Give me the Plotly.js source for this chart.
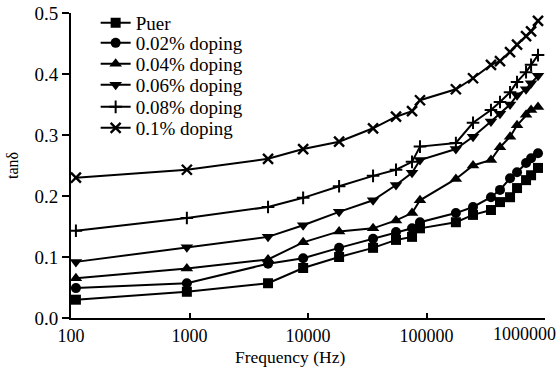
<!DOCTYPE html>
<html>
<head>
<meta charset="utf-8">
<script src="https://cdn.plot.ly/plotly-3.0.1.min.js"></script>
<style>html,body{margin:0;padding:0;background:#fff;}#chart{width:559px;height:373px;}</style>
</head>
<body>
<div id="chart"></div>
<script>
// Frequencies (Hz)
const frequency = [110, 950, 4600, 9100, 18300, 35400, 55300, 75500, 88100, 177000, 247000, 350000, 417000, 507000, 581000, 692000, 763000, 873000];

const seriesNames = ["Puer", "0.02% doping", "0.04% doping", "0.06% doping", "0.08% doping", "0.1% doping"];

const puer    = [0.030, 0.043, 0.057, 0.082, 0.100, 0.115, 0.128, 0.133, 0.147, 0.157, 0.169, 0.177, 0.190, 0.198, 0.213, 0.226, 0.234, 0.246];
const dop002  = [0.049, 0.057, 0.089, 0.098, 0.115, 0.130, 0.141, 0.147, 0.157, 0.172, 0.182, 0.198, 0.210, 0.229, 0.239, 0.254, 0.262, 0.270];
const dop004  = [0.065, 0.081, 0.096, 0.124, 0.142, 0.147, 0.160, 0.172, 0.193, 0.228, 0.250, 0.259, 0.280, 0.297, 0.316, 0.333, 0.341, 0.346];
const dop006  = [0.092, 0.116, 0.133, 0.152, 0.174, 0.193, 0.218, 0.238, 0.259, 0.277, 0.297, 0.322, 0.335, 0.350, 0.365, 0.375, 0.385, 0.397];
const dop008  = [0.143, 0.164, 0.182, 0.197, 0.216, 0.233, 0.243, 0.256, 0.281, 0.287, 0.320, 0.341, 0.354, 0.370, 0.387, 0.403, 0.415, 0.431];
const dop010  = [0.230, 0.243, 0.261, 0.277, 0.289, 0.311, 0.330, 0.339, 0.357, 0.375, 0.393, 0.415, 0.421, 0.436, 0.448, 0.462, 0.470, 0.487];

const xTickVals = [100, 1000, 10000, 100000, 1000000];
const xTickText = ["100", "1000", "10000", "100000", "1000000"];

const allValues = [puer, dop002, dop004, dop006, dop008, dop010];
const symbols = ["square", "circle", "triangle-up", "triangle-down", "cross-thin", "x-thin"];
const sizes = [10, 10, 11, 11, 9, 10];
const strokes = [0, 0, 0, 0, 2, 2.4];
const legendIds = ["legend", "legend2", "legend3", "legend4", "legend5", "legend6"];

const FONT = "Liberation Serif, Times New Roman, serif";

const traces = allValues.map((vals, i) => ({
  type: "scatter",
  mode: "lines+markers",
  name: seriesNames[i],
  x: frequency,
  y: vals,
  legend: legendIds[i],
  line: {color: "#000", width: 2},
  marker: {
    symbol: symbols[i],
    size: sizes[i],
    color: "#000",
    line: {color: "#000", width: strokes[i]}
  }
}));

// last tick label is shifted left in the reference so it fits the figure; drawn as annotation
const lastIdx = xTickText.length - 1;
const shownTickText = xTickText.map((t, i) => (i === lastIdx ? "" : t));

const legendRowsPx = [23, 43, 64, 85, 107, 128];
const layout = {
  width: 559,
  height: 373,
  margin: {l: 71, r: 14, t: 13, b: 55, autoexpand: false},
  paper_bgcolor: "#fff",
  plot_bgcolor: "#fff",
  font: {family: FONT, size: 19, color: "#000"},
  xaxis: {
    type: "log",
    range: [2, 6],
    tickvals: xTickVals,
    ticktext: shownTickText,
    ticks: "inside",
    ticklen: 5,
    tickwidth: 2,
    tickcolor: "#000",
    showline: true,
    linewidth: 2,
    linecolor: "#000",
    showgrid: false,
    zeroline: false,
    tickfont: {family: FONT, size: 18, color: "#000"},
    ticklabelstandoff: 0
  },
  yaxis: {
    range: [0, 0.5],
    dtick: 0.1,
    tick0: 0,
    tickformat: ".1f",
    ticks: "outside",
    ticklen: 7,
    tickwidth: 2,
    tickcolor: "#000",
    showline: true,
    linewidth: 2,
    linecolor: "#000",
    showgrid: false,
    zeroline: false,
    tickfont: {family: FONT, size: 19, color: "#000"},
    title: {text: "tanδ", font: {family: FONT, size: 16, color: "#000"}, standoff: 12}
  },
  annotations: [{
    text: "Frequency (Hz)",
    xref: "paper", yref: "paper",
    x: 0.462, y: -0.128,
    xanchor: "center", yanchor: "middle",
    showarrow: false,
    font: {family: FONT, size: 17.5, color: "#000"}
  }, {
    text: xTickText[lastIdx],
    xref: "paper", yref: "paper",
    x: (557 - 71) / 474, y: (318 - 334) / 305,
    xanchor: "right", yanchor: "middle",
    showarrow: false,
    borderpad: 0,
    font: {family: FONT, size: 18, color: "#000"}
  }],
  showlegend: true
};

legendIds.forEach((id, i) => {
  layout[id] = {
    x: 0.052,
    xanchor: "left",
    y: (318 - legendRowsPx[i]) / 305,
    yanchor: "middle",
    bgcolor: "rgba(0,0,0,0)",
    borderwidth: 0,
    font: {family: FONT, size: 19, color: "#000"},
    itemwidth: 30
  };
});

Plotly.newPlot("chart", traces, layout, {staticPlot: true, displayModeBar: false});
</script>
</body>
</html>
